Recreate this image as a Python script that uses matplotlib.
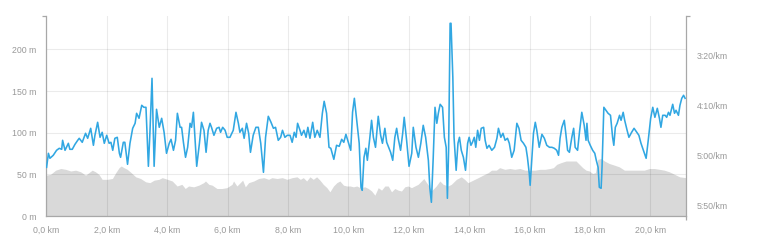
import matplotlib
matplotlib.use("Agg")
import matplotlib.pyplot as plt
from matplotlib.ticker import FuncFormatter

# elevation profile (km, m)
elev_km = [0.0, 0.14, 0.31, 0.48, 0.64, 0.81, 0.97, 1.14, 1.30, 1.41, 1.52, 1.63, 1.74, 1.85,
           2.02, 2.19, 2.30, 2.41, 2.48, 2.57, 2.68, 2.81, 2.96, 3.12, 3.29, 3.43, 3.57, 3.73,
           3.84, 4.01, 4.17, 4.33, 4.49, 4.60, 4.71, 4.88, 5.05, 5.21, 5.27, 5.38, 5.49, 5.65,
           5.82, 5.98, 6.15, 6.20, 6.31, 6.42, 6.50, 6.59, 6.70, 6.87, 7.03, 7.20, 7.36, 7.47,
           7.64, 7.81, 7.97, 8.14, 8.30, 8.41, 8.51, 8.62, 8.73, 8.84, 8.95, 9.06, 9.17, 9.29,
           9.39, 9.51, 9.62, 9.72, 9.84, 9.95, 10.06, 10.17, 10.28, 10.39, 10.55, 10.66, 10.77,
           10.88, 10.99, 11.10, 11.21, 11.32, 11.43, 11.54, 11.65, 11.76, 11.87, 11.98, 12.09,
           12.20, 12.31, 12.42, 12.50, 12.59, 12.67, 12.75, 12.91, 13.03, 13.14, 13.30, 13.41,
           13.58, 13.74, 13.85, 13.96, 14.13, 14.30, 14.46, 14.63, 14.74, 14.90, 15.01, 15.18,
           15.35, 15.51, 15.68, 15.85, 16.01, 16.18, 16.34, 16.51, 16.68, 16.79, 16.90, 17.04,
           17.21, 17.37, 17.54, 17.65, 17.76, 17.87, 17.98, 18.09, 18.18, 18.26, 18.37, 18.48,
           18.64, 18.81, 18.97, 19.14, 19.30, 19.47, 19.63, 19.80, 19.97, 20.13, 20.30, 20.46,
           20.63, 20.80, 20.97, 21.18]
elev_m = [49, 50, 55, 57, 56, 54, 55, 53, 49, 52, 55, 53, 50, 44,
          44, 45, 52, 58, 60, 58, 56, 52, 47, 45, 41, 40, 43, 44,
          46, 44, 42, 36, 38, 33, 36, 35, 37, 40, 42, 38, 37, 33,
          33, 34, 38, 42, 36, 40, 43, 35, 40, 42, 45, 46, 44, 46,
          45, 46, 44, 46, 47, 44, 46, 42, 47, 44, 47, 43, 38, 34,
          29, 36, 40, 42, 37, 36, 36, 35, 36, 34, 35, 33, 30,
          25, 34, 31, 36, 36, 29, 33, 31, 30, 35, 36, 34,
          36, 38, 42, 45, 40, 36, 30, 36, 42, 38, 36, 38,
          44, 47, 44, 40, 43, 46, 49, 52, 55, 55, 58, 56,
          57, 56, 57, 55, 55, 55, 56, 56, 57, 58, 62, 64,
          66, 66, 66, 62, 58, 55, 54, 51, 52, 68, 69, 66,
          63, 61, 59, 55, 55, 55, 55, 55, 57, 57, 56, 55,
          53, 50, 47, 46]

# pace (km, seconds per km)
pace_km = [0.01, 0.07, 0.12, 0.23, 0.34, 0.43, 0.51, 0.54, 0.62, 0.73, 0.78, 0.86, 0.95, 1.04,
           1.09, 1.19, 1.30, 1.37, 1.47, 1.56, 1.61, 1.70, 1.78, 1.85, 1.92, 2.00, 2.08, 2.14,
           2.20, 2.27, 2.35, 2.42, 2.46, 2.55, 2.60, 2.69, 2.77, 2.86, 2.94, 2.99, 3.07, 3.16,
           3.23, 3.30, 3.38, 3.43, 3.50, 3.57, 3.65, 3.74, 3.82, 3.90, 3.98, 4.07, 4.13, 4.21,
           4.28, 4.34, 4.43, 4.48, 4.54, 4.61, 4.68, 4.76, 4.81, 4.87, 4.92, 4.98, 5.07, 5.14,
           5.22, 5.29, 5.36, 5.42, 5.47, 5.55, 5.64, 5.72, 5.77, 5.84, 5.92, 5.99, 6.08, 6.19,
           6.28, 6.36, 6.41, 6.49, 6.55, 6.63, 6.70, 6.76, 6.85, 6.94, 7.02, 7.10, 7.19, 7.26,
           7.35, 7.44, 7.52, 7.59, 7.68, 7.76, 7.82, 7.90, 7.98, 8.07, 8.14, 8.21, 8.27, 8.32,
           8.40, 8.45, 8.53, 8.60, 8.66, 8.73, 8.82, 8.89, 8.97, 9.06, 9.14, 9.20, 9.28, 9.36,
           9.42, 9.52, 9.61, 9.70, 9.78, 9.85, 9.92, 10.00, 10.08, 10.14, 10.20, 10.25, 10.31,
           10.36, 10.42, 10.46, 10.52, 10.58, 10.63, 10.71, 10.77, 10.83, 10.90, 10.99, 11.07,
           11.13, 11.21, 11.27, 11.35, 11.40, 11.47, 11.54, 11.60, 11.65, 11.73, 11.80, 11.85,
           11.93, 12.01, 12.10, 12.15, 12.24, 12.32, 12.40, 12.48, 12.56, 12.65, 12.70, 12.75,
           12.81, 12.87, 12.93, 12.98, 13.04, 13.12, 13.18, 13.24, 13.28, 13.32, 13.37, 13.40,
           13.46, 13.50, 13.57, 13.63, 13.68, 13.74, 13.81, 13.88, 13.95, 14.00, 14.06, 14.11,
           14.17, 14.22, 14.28, 14.34, 14.40, 14.48, 14.53, 14.59, 14.66, 14.75, 14.84, 14.92,
           14.97, 15.05, 15.12, 15.19, 15.27, 15.33, 15.41, 15.49, 15.58, 15.65, 15.72, 15.80,
           15.88, 15.93, 15.99, 16.02, 16.08, 16.13, 16.19, 16.24, 16.32, 16.41, 16.49, 16.57,
           16.66, 16.74, 16.82, 16.90, 16.96, 17.01, 17.07, 17.15, 17.20, 17.26, 17.32, 17.40,
           17.46, 17.51, 17.59, 17.66, 17.73, 17.81, 17.87, 17.90, 17.94, 18.01, 18.09, 18.16,
           18.21, 18.27, 18.31, 18.37, 18.40, 18.46, 18.53, 18.60, 18.68, 18.75, 18.79, 18.84,
           18.90, 18.98, 19.03, 19.10, 19.15, 19.23, 19.29, 19.38, 19.46, 19.55, 19.62, 19.69,
           19.77, 19.86, 19.93, 20.01, 20.08, 20.15, 20.23, 20.30, 20.35, 20.41, 20.49, 20.54,
           20.60, 20.65, 20.74, 20.80, 20.85, 20.93, 20.98, 21.04, 21.10, 21.15]
pace_s = [312, 298, 303, 300, 295, 293, 294, 285, 295, 288, 294, 294, 289, 285,
          283, 287, 278, 283, 273, 290, 280, 267, 282, 277, 288, 280, 288, 287,
          295, 283, 282, 298, 302, 287, 287, 309, 288, 273, 268, 258, 263, 250,
          252, 252, 311, 278, 223, 311, 254, 272, 263, 277, 298, 288, 284, 295,
          285, 258, 272, 272, 287, 302, 292, 268, 272, 257, 282, 311, 288, 267,
          275, 297, 275, 268, 272, 280, 273, 272, 277, 272, 275, 282, 282, 275,
          257, 268, 277, 273, 283, 268, 278, 297, 280, 272, 272, 288, 317, 282,
          261, 267, 273, 272, 285, 282, 275, 282, 280, 280, 287, 277, 282, 268,
          275, 280, 275, 282, 272, 283, 267, 282, 275, 282, 258, 246, 258, 292,
          293, 304, 290, 291, 284, 287, 279, 287, 295, 257, 243, 257, 273,
          288, 332, 335, 302, 293, 305, 283, 265, 282, 292, 261, 280,
          288, 273, 287, 293, 297, 305, 282, 273, 283, 295, 278, 262,
          285, 311, 298, 272, 292, 302, 288, 270, 282, 305, 333, 347,
          303, 252, 268, 258, 249, 252, 282, 292, 343, 295, 168, 168,
          222, 282, 315, 288, 282, 295, 302, 315, 288, 282, 290, 287,
          282, 292, 275, 285, 273, 272, 285, 293, 290, 295, 292, 283,
          273, 282, 278, 285, 283, 288, 302, 295, 268, 273, 285, 288,
          292, 302, 318, 330, 302, 278, 267, 275, 292, 279, 283, 290,
          292, 292, 293, 295, 300, 283, 272, 265, 278, 295, 297, 282,
          273, 292, 295, 275, 257, 270, 285, 268, 285, 290, 295, 298,
          305, 312, 332, 333, 312, 252, 255, 258, 260, 282, 290, 272,
          268, 260, 265, 257, 265, 275, 282, 277, 273, 277, 280, 288,
          295, 303, 285, 263, 252, 262, 253, 263, 272, 260, 260, 262,
          257, 260, 249, 258, 255, 260, 250, 243, 240, 243]

elev_ticks = [0, 50, 100, 150, 200]
pace_ticks = [200, 250, 300, 350]
km_ticks = [0, 2, 4, 6, 8, 10, 12, 14, 16, 18, 20]

label_col = "#999999"
axis_col = "#a8a8a8"

fig = plt.figure(figsize=(7.64, 2.47), dpi=100)
ax = fig.add_axes([0.0606, 0.1255, 0.8373, 0.8097])
ax2 = ax.twinx()

ax.fill_between(elev_km, elev_m, 0, color="#d9d9d9", lw=0, zorder=1)
ax2.plot(pace_km, pace_s, color="#31a7e2", lw=1.15, zorder=3)

ax.set_xlim(0, 21.18)
ax.set_ylim(0, 240)
ax2.set_ylim(360.7, 160.7)

ax.set_xticks(km_ticks)
ax.set_yticks(elev_ticks)
ax2.set_yticks(pace_ticks)
ax.xaxis.set_major_formatter(FuncFormatter(lambda v, p: f"{v:.1f}".replace(".", ",") + " km"))
ax.yaxis.set_major_formatter(FuncFormatter(lambda v, p: f"{int(v)} m"))
ax2.yaxis.set_major_formatter(FuncFormatter(lambda v, p: f"{int(v // 60)}:{int(v % 60):02d}/km"))

ax.grid(True, color="k", alpha=0.08, lw=0.8)
for a in (ax, ax2):
    for s in a.spines.values():
        s.set_visible(False)
ax.spines["left"].set_visible(True)
ax.spines["bottom"].set_visible(True)
ax2.spines["right"].set_visible(True)
ax.spines["left"].set_color(axis_col)
ax.spines["bottom"].set_color(axis_col)
ax2.spines["right"].set_color(axis_col)
for s in (ax.spines["left"], ax.spines["bottom"], ax2.spines["right"]):
    s.set_linewidth(0.9)

font = dict(family=["Liberation Sans", "DejaVu Sans"])
ax.tick_params(axis="both", length=0, labelsize=6.3, labelcolor=label_col)
ax.tick_params(axis="y", pad=7)
ax.tick_params(axis="x", pad=7)
ax2.tick_params(axis="y", length=0, labelsize=6.3, labelcolor=label_col, pad=8)
for lab in ax.get_xticklabels() + ax.get_yticklabels() + ax2.get_yticklabels():
    lab.set_fontfamily(font["family"])

# little end ticks on the axes
ax.set_yticks([0, 240], minor=True)
ax.set_xticks([0, 21.18], minor=True)
ax2.set_yticks([160.7], minor=True)
ax.tick_params(which="minor", length=3, color=axis_col, width=0.9)
ax2.tick_params(which="minor", length=3, color=axis_col, width=0.9)

fig.savefig("out.png", dpi=100)
